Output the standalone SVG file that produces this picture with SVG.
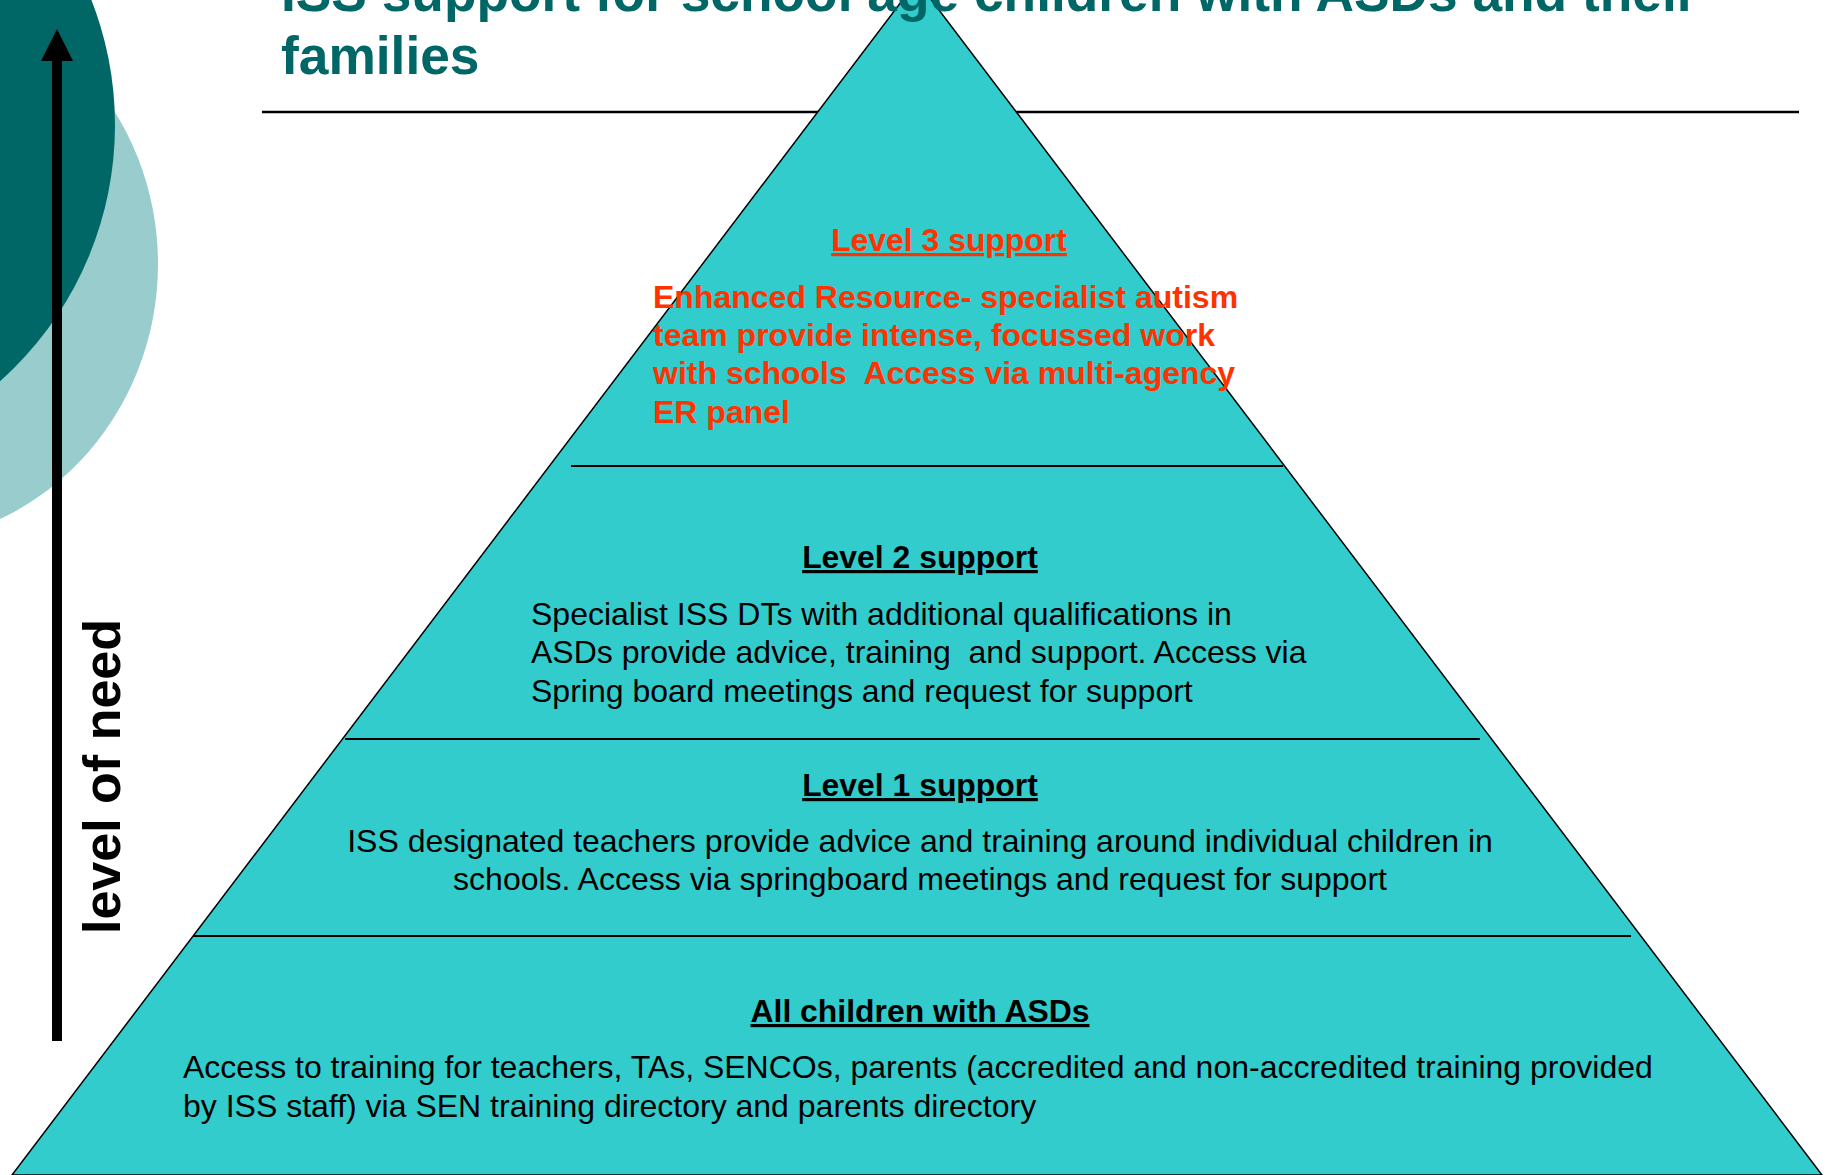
<svg xmlns="http://www.w3.org/2000/svg" width="1836" height="1175" viewBox="0 0 1836 1175">
<style>
.t{font-family:"Liberation Sans",Arial,sans-serif}
.title{font-size:53.3px;font-weight:bold;fill:#006666}
.head{font-size:31.9px;font-weight:bold;text-decoration:underline;text-anchor:middle}
.body{font-size:32px;white-space:pre}
.red{fill:#FF3300}
.blk{fill:#000}
.div{stroke:#000;stroke-width:2}
</style>
<defs>
<marker id="ah" markerUnits="userSpaceOnUse" markerWidth="32" markerHeight="32" viewBox="0 0 32 32" refX="0" refY="16" orient="auto">
<path d="M0,0 L32,16 L0,32 z" fill="#000"/>
</marker>
</defs>
<rect width="1836" height="1175" fill="#fff"/>
<g id="decor">
<ellipse cx="-111" cy="264" rx="269" ry="280" fill="#99CCCC"/>
<circle cx="-228" cy="125" r="343" fill="#006666"/>
</g>
<line x1="262" y1="112" x2="1799" y2="112" stroke="#000" stroke-width="2.5"/>
<g id="pyramid">
<polygon points="917,-19 12,1175 1822,1175" fill="#33CCCC" stroke="#000" stroke-width="1.5"/>
</g>
<g id="connectors">
<line class="div" x1="571" y1="466" x2="1283" y2="466"/>
<line class="div" x1="345" y1="739" x2="1480" y2="739"/>
<line class="div" x1="193" y1="936" x2="1631" y2="936"/>
<line x1="57" y1="1041" x2="57" y2="61" stroke="#000" stroke-width="10" marker-end="url(#ah)"/>
</g>
<g id="title">
<text class="t title" x="281" y="11">ISS support for school age children with ASDs and their</text>
<text class="t title" x="281" y="74">families</text>
</g>
<g id="axis-label">
<text class="t" x="0" y="0" transform="translate(120,776.5) rotate(-90)" text-anchor="middle" font-size="52" font-weight="bold" fill="#000">level of need</text>
</g>
<g id="level3">
<text class="t head red" x="949" y="251">Level 3 support</text>
<text class="t body red" font-weight="bold" x="653" y="308">Enhanced Resource- specialist autism</text>
<text class="t body red" font-weight="bold" x="653" y="346">team provide intense, focussed work</text>
<text class="t body red" font-weight="bold" x="653" y="384">with schools  Access via multi-agency</text>
<text class="t body red" font-weight="bold" x="653" y="423">ER panel</text>
</g>
<g id="level2">
<text class="t head blk" x="920" y="568">Level 2 support</text>
<text class="t body blk" x="531" y="625">Specialist ISS DTs with additional qualifications in</text>
<text class="t body blk" x="531" y="663">ASDs provide advice, training  and support. Access via</text>
<text class="t body blk" x="531" y="702">Spring board meetings and request for support</text>
</g>
<g id="level1">
<text class="t head blk" x="920" y="796">Level 1 support</text>
<text class="t body blk" x="920" y="852" text-anchor="middle">ISS designated teachers provide advice and training around individual children in</text>
<text class="t body blk" x="920" y="890" text-anchor="middle">schools. Access via springboard meetings and request for support</text>
</g>
<g id="level0">
<text class="t head blk" x="920" y="1022">All children with ASDs</text>
<text class="t body blk" x="183" y="1078">Access to training for teachers, TAs, SENCOs, parents (accredited and non-accredited training provided</text>
<text class="t body blk" x="183" y="1117">by ISS staff) via SEN training directory and parents directory</text>
</g>
</svg>
